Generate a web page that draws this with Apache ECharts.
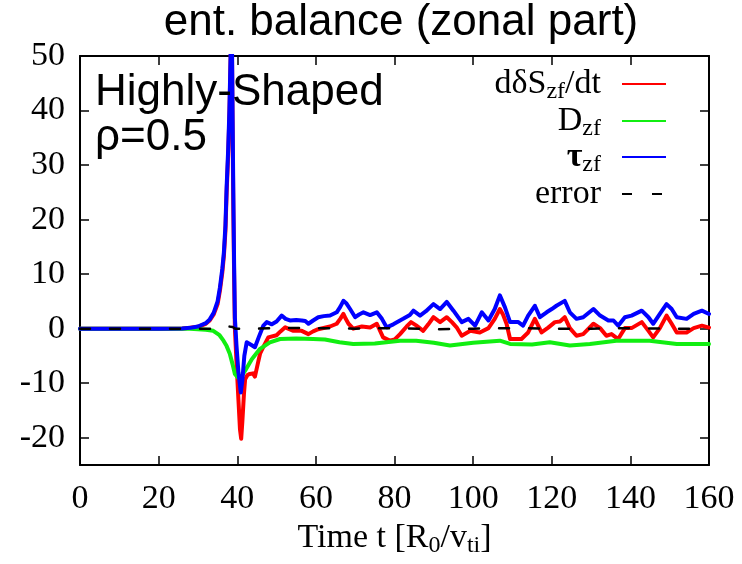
<!DOCTYPE html>
<html><head><meta charset="utf-8">
<script src="https://cdn.jsdelivr.net/npm/echarts@6/dist/echarts.min.js"></script>
<style>html,body{margin:0;padding:0;background:#fff}#c{width:742px;height:564px}</style>
</head><body><div id="c"></div>
<script>
// ---- data ----
const xTicks = [0, 20, 40, 60, 80, 100, 120, 140, 160];
const yTicks = [-20, -10, 0, 10, 20, 30, 40, 50];

const dsT = [0,20,26,28,30,32,33,34,35,35.6,36.2,36.6,37,37.3,37.7,38,38.3,38.6,38.8,39.0,39.2,39.4,39.8,40.3,40.7,41.0,41.3,41.7,42.0,42.6,43.2,44.0,44.5,45.2,45.8,46.6,47.9,50,51,52.2,54.3,56.4,58.1,59.3,60.6,63.6,65.3,66.2,67,67.6,68.3,69.5,71.7,73.8,75.5,77.1,78.8,80,81.4,83.1,84.2,85.5,87.3,88.6,89.9,91.6,93.3,94.6,95.8,97.1,99.3,101.7,103.9,105.5,106.8,107.6,108.5,109.4,112.3,114,115.7,117.4,119.1,120.8,122.1,123.3,124.6,126.3,128,130.6,132.3,133.9,135.2,136.9,138.6,140.3,142.9,144.6,145.8,147.5,149.2,150.5,151.8,154.3,156.1,158.2,160];
const dsV = [0,0,0.05,0.15,0.35,0.9,1.5,2.6,4.5,7,10.3,13.3,18,25,32,39,49,56,38,22,10,0,-6,-13,-18.5,-20.2,-17,-12,-9.3,-8.5,-8.3,-8.2,-8.8,-6.5,-4.6,-3.4,-1.6,-1.2,-0.5,0.25,-0.4,-0.4,-1.0,-0.5,-0.1,0.4,0.9,1.8,2.7,1.8,0.9,0,0.4,0.2,0.9,-1.6,-2.2,-2.0,-1.0,0.4,1.2,0.6,-0.4,0.8,2.1,1.2,2.1,1.2,0.25,-1.3,-0.4,-0.7,0.1,1.8,3.6,2.6,0.9,-1.9,-1.9,-0.7,1.8,-0.7,0.2,1.2,1.3,2.1,0.1,-1.3,-1.0,0.9,0.1,-1.3,-1.0,-1.9,0.1,0.1,1.2,-0.4,-1.6,0.1,2.4,0.9,-0.7,-0.7,0.1,0.55,0.2];

const dT = [0,28,30,32,33.9,35.5,36.5,37.3,38.1,38.8,39.4,40.2,40.7,41.3,42,43.7,45.8,48.3,50.9,55,59.3,62.3,66,69.5,75,81.4,85.5,90,94.1,100,106.8,109.4,115,119.5,124.6,129.7,136.4,144.9,151.8,160];
const dV = [0,0,-0.1,-0.2,-0.4,-1.2,-2.2,-3.2,-4.6,-6.5,-8.3,-9.0,-9.0,-8.5,-7.7,-5.6,-3.7,-2.5,-1.9,-1.8,-1.9,-2.0,-2.5,-2.8,-2.7,-2.2,-2.2,-2.6,-3.1,-2.6,-2.2,-2.8,-2.9,-2.5,-3.1,-2.8,-2.2,-2.2,-2.8,-2.8];

const tauT = [0,20,26,28,30,32,33,34,35,35.6,36.2,36.6,37,37.3,37.7,38,38.3,38.6,38.8,39.0,39.2,39.4,39.8,40.3,40.9,41.3,41.8,42.4,42.8,43.6,44.5,45.5,46.6,47.5,48.8,50,51.3,52.3,53.4,55,56.4,57.3,58.1,59.3,60.6,62,63.6,65.3,66.2,67,67.8,68.7,70,71,72.1,73.8,75.5,76.8,78,79.7,81.4,82.2,83.9,84.8,86.5,88,89.9,91.6,93.3,95,97.1,98.8,100.5,102.2,103.9,105.5,106.8,108.1,109.4,111.5,112.7,114,115.7,117,118.7,120,121.2,123.3,124.6,126.3,128,130.6,132.3,134.4,135.7,136.9,138.6,140.3,142.9,144.6,145.8,147.5,149.2,150.5,151.8,154.3,156.1,158.2,160];
const tauV = [0,0,0.05,0.15,0.4,1.0,1.7,2.9,5.0,7.6,11,14,19,26,33,40,50,58,40,25,12,2,-3,-8,-11.7,-9.5,-5,-2.5,-2.2,-3.0,-3.4,-1.5,0.5,1.2,0.8,1.3,2.4,1.8,1.5,1.6,1.5,1.4,0.9,1.5,2.1,2.3,2.4,3.0,4.0,5.1,4.6,3.6,2.1,2.6,3.0,2.5,3.0,1.8,0.25,0.8,1.5,1.8,2.5,3.3,2.4,3.2,4.5,3.6,4.9,3.3,1.2,1.8,0.55,3.0,1.5,3.6,6.1,3.9,1.2,1.2,0.55,2.4,4.2,2.1,3.0,3.6,4.2,5.1,3.0,1.8,2.1,3.6,2.4,1.5,1.5,0.55,2.1,2.4,3.3,2.1,0.9,2.7,4.5,3.6,2.1,1.8,2.7,3.3,2.7];

const errT = [0,30,36,37,37.8,38.3,38.8,39.5,41,45,50,60,70,80,90,100,110,120,130,140,150,160];
const errV = [0,0,0,0.1,0.4,0.6,0.3,0,0,0,0.1,0.1,0,0.1,-0.1,0,0.1,0,0,0.1,0,0];

const seriesNames = ['dS', 'D', 'tau', 'err'];

// ---- build ----
const zip = (t, v) => t.map((x, i) => [x, v[i]]);
const serif = '"Liberation Serif", "Times New Roman", serif';
const sans = '"Liberation Sans", Arial, Helvetica, sans-serif';

function mkSeries(name, t, v, color, width, type) {
  return {
    name, type: 'line', data: zip(t, v), symbol: 'none', showSymbol: false,
    lineStyle: { color, width, type: type || 'solid', join: 'round', cap: 'round' }, itemStyle: { color },
    clip: true, animation: false, z: 3
  };
}

const legendText = {
  dS: '{n|dδS}{s|zf}{n|/dt}{g| }',
  D: '{n|D}{s|zf}{g| }',
  tau: '{b|τ}{s|zf}{g| }',
  err: '{n|error}{g| }'
};
const rich = {
  n: { fontFamily: serif, fontSize: 34, color: '#000' },
  b: { fontFamily: serif, fontSize: 34, color: '#000', fontWeight: 'bold' },
  s: { fontFamily: serif, fontSize: 24, color: '#000', padding: [16, 0, 0, 0] },
  g: { width: 16 }
};
const rowCenters = [83, 120, 156, 193];

const axisCommon = {
  axisLine: { show: true, onZero: false, lineStyle: { color: '#000', width: 2 } },
  axisTick: { show: true, inside: true, length: 9, lineStyle: { color: '#000', width: 1.5 } },
  splitLine: { show: false }
};

const option = {
  backgroundColor: '#fff',
  animation: false,
  grid: { left: 80, right: 33, top: 56, bottom: 99, containLabel: false },
  xAxis: [
    Object.assign({}, axisCommon, {
      type: 'value', min: 0, max: 160, interval: 20, position: 'bottom',
      axisLabel: { fontFamily: serif, fontSize: 34, color: '#000', margin: 17, customValues: xTicks },
      name: '{n|Time t [R}{s|0}{n|/v}{s|ti}{n|]}', nameLocation: 'middle', nameGap: 35,
      nameTextStyle: { rich }
    }),
    Object.assign({}, axisCommon, {
      type: 'value', min: 0, max: 160, interval: 20, position: 'top',
      axisLabel: { show: false }
    })
  ],
  yAxis: [
    Object.assign({}, axisCommon, {
      type: 'value', min: -25, max: 50, position: 'left',
      axisTick: Object.assign({}, axisCommon.axisTick, { customValues: yTicks }),
      axisLabel: { fontFamily: serif, fontSize: 34, color: '#000', margin: 15, customValues: yTicks }
    }),
    Object.assign({}, axisCommon, {
      type: 'value', min: -25, max: 50, position: 'right',
      axisTick: Object.assign({}, axisCommon.axisTick, { customValues: yTicks }),
      axisLabel: { show: false }
    })
  ],
  legend: seriesNames.map((n, i) => ({
    data: [n], orient: 'horizontal', align: 'right', right: 75, top: rowCenters[i] - 16,
    itemWidth: 44, itemHeight: 12, selectedMode: false, padding: 0,
    itemStyle: { opacity: 0, borderWidth: 0 },
    lineStyle: { cap: 'butt' },
    formatter: name => legendText[name],
    textStyle: { rich }
  })),
  series: [
    mkSeries('dS', dsT, dsV, '#ff0000', 4),
    mkSeries('D', dT, dV, '#11ee11', 4),
    mkSeries('tau', tauT, tauV, '#0000ff', 4),
    mkSeries('err', errT, errV, '#000000', 2.5, [10, 20])
  ],
  graphic: [
    { type: 'text', x: 401, y: 23, z: 10,
      style: { text: 'ent. balance (zonal part)', font: '44px ' + sans, fill: '#000',
               align: 'center', verticalAlign: 'middle', textAlign: 'center', textVerticalAlign: 'middle' } },
    { type: 'text', x: 95, y: 93, z: 10,
      style: { text: 'Highly-Shaped', font: '44px ' + sans, fill: '#000',
               align: 'left', verticalAlign: 'middle', textAlign: 'left', textVerticalAlign: 'middle' } },
    { type: 'text', x: 95, y: 138, z: 10,
      style: { text: 'ρ=0.5', font: '44px ' + sans, fill: '#000',
               align: 'left', verticalAlign: 'middle', textAlign: 'left', textVerticalAlign: 'middle' } }
  ]
};

const chart = echarts.init(document.getElementById('c'), null, { renderer: 'canvas' });
chart.setOption(option);
</script>
</body></html>
